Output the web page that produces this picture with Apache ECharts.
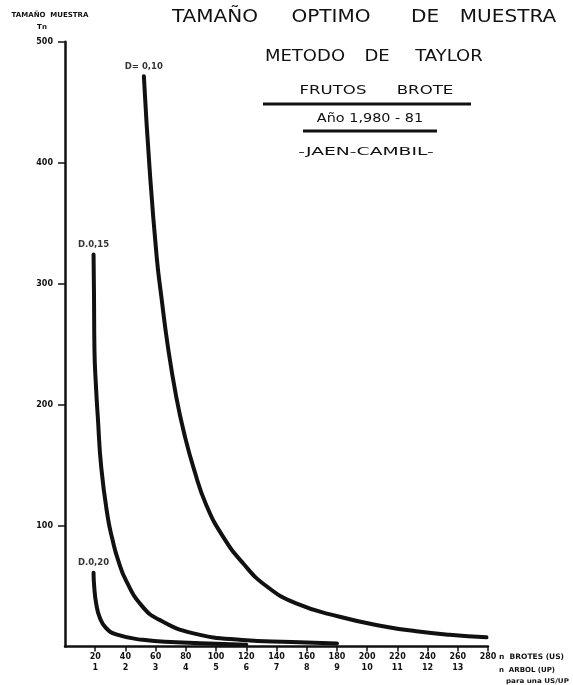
<!DOCTYPE html>
<html>
<head>
<meta charset="utf-8">
<script src="https://cdn.jsdelivr.net/npm/echarts@6/dist/echarts.min.js"></script>
<style>html,body{margin:0;padding:0;background:#fff}#c{width:573px;height:685px}</style>
</head>
<body>
<div id="c"></div>
<script>
// ---- data ----
const curveNames = ['D= 0,10', 'D.0,15', 'D.0,20'];
const xD10 = [52.2, 56, 60.7, 63.7, 68.1, 73.7, 79.1, 85.5, 93.5, 104.5, 117.7, 133.2, 153, 181.8, 210.5, 232.6, 254.6, 279];
const yD10 = [471.5, 395, 322, 290, 248, 206, 175, 146, 117, 91, 69, 50, 35.6, 24.6, 16.8, 12.6, 9.7, 7.6];
const xD15 = [18.9, 19.2, 19.5, 20.5, 21.7, 24, 28.3, 31.5, 35, 40.6, 51.3, 62.6, 84.4, 117.5, 150, 180];
const yD15 = [324, 290, 245, 215, 190, 148, 107, 88, 72, 54, 33, 22, 11.1, 5.4, 3.8, 2.5];
const xD20 = [18.9, 19.3, 20.7, 23, 27, 33.9, 51.5, 73.6, 100, 120];
const yD20 = [61, 50, 35, 24, 15.5, 10, 5.5, 3.5, 2.3, 1.5];
const xTicksTop = [20, 40, 60, 80, 100, 120, 140, 160, 180, 200, 220, 240, 260, 280];
const xTicksBottom = ['1', '2', '3', '4', '5', '6', '7', '8', '9', '10', '11', '12', '13', ''];
const yTicks = [100, 200, 300, 400, 500];
const yAxisTitle = ['TAMAÑO  MUESTRA', 'Tn'];
const xAxisTitle = ['n  BROTES (US)', 'n  ARBOL (UP)', 'para una US/UP'];
const titleWords = ['TAMAÑO', 'OPTIMO', 'DE', 'MUESTRA'];
const subtitleWords = ['METODO', 'DE', 'TAYLOR'];
const frutosWords = ['FRUTOS', 'BROTE'];
const yearText = 'Año 1,980 - 81';
const placeText = '-JAEN-CAMBIL-';

const FONT = 'DejaVu Sans';
const ink = '#111';

function pairs(xs, ys) { return xs.map((x, i) => [x, ys[i]]); }

function textEl(text, cx, cy, size, weight, scaleX) {
  return { type: 'text', x: cx, y: cy, scaleX: scaleX || 1,
    style: { text: text, fontFamily: FONT, fontSize: size, fontWeight: weight || 'normal', fill: ink,
      align: 'center', verticalAlign: 'middle' } };
}
function leftText(text, lx, cy, size, weight, scaleX) {
  return { type: 'text', x: lx, y: cy, scaleX: scaleX || 1,
    style: { text: text, fontFamily: FONT, fontSize: size, fontWeight: weight || 'normal', fill: ink,
      align: 'left', verticalAlign: 'middle' } };
}

const chart = echarts.init(document.getElementById('c'), null, { renderer: 'canvas' });
const titleCX = [215, 331, 425, 508];
const subCX = [305, 377, 449];
const frCX = [333, 425];

const graphic = [];
titleWords.forEach((w, i) => graphic.push(textEl(w, titleCX[i], 18, 17, 'normal', 1.18)));
subtitleWords.forEach((w, i) => graphic.push(textEl(w, subCX[i], 57, 15, 'normal', 1.2)));
frutosWords.forEach((w, i) => graphic.push(textEl(w, frCX[i], 91, 12, 'normal', 1.38)));
graphic.push({ type: 'line', shape: { x1: 263, y1: 104, x2: 471, y2: 104 }, style: { stroke: ink, lineWidth: 3 } });
graphic.push(textEl(yearText, 370, 119, 12, 'normal', 1.2));
graphic.push({ type: 'line', shape: { x1: 303, y1: 131, x2: 437, y2: 131 }, style: { stroke: ink, lineWidth: 3 } });
graphic.push(textEl(placeText, 366, 152, 11, 'normal', 1.7));
graphic.push(textEl(yAxisTitle[0], 50, 15, 7, 'bold'));
graphic.push(textEl(yAxisTitle[1], 42, 27, 7, 'bold'));
graphic.push(leftText(xAxisTitle[0], 499, 657, 7.5, 'bold'));
graphic.push(leftText(xAxisTitle[1], 499, 670, 7, 'bold'));
graphic.push(leftText(xAxisTitle[2], 506, 681, 6.5, 'bold', 1.1));

const lineStyle = { color: ink, width: 4, cap: 'round', join: 'round' };
const labelPts = [[xD10[0], yD10[0]], [xD15[0], yD15[0]], [xD20[0], yD20[0]]];

chart.setOption({
  animation: false,
  backgroundColor: '#fff',
  grid: { left: 65, right: 85, top: 41.7, bottom: 38.5, containLabel: false },
  xAxis: {
    type: 'value', min: 0, max: 280, interval: 20,
    axisLine: { show: true, onZero: false, lineStyle: { color: ink, width: 2.5 } },
    axisTick: { show: true, length: 5, customValues: xTicksTop, lineStyle: { color: ink, width: 1.5 } },
    splitLine: { show: false },
    axisLabel: {
      customValues: xTicksTop, margin: 5, color: ink, fontFamily: FONT, fontWeight: 'bold', fontSize: 8, lineHeight: 11,
      formatter: v => { const i = xTicksTop.indexOf(v); return i < 0 ? '' : (xTicksBottom[i] ? v + '\n' + xTicksBottom[i] : String(v)); }
    }
  },
  yAxis: {
    type: 'value', min: 0, max: 500, interval: 100,
    axisLine: { show: true, onZero: false, lineStyle: { color: ink, width: 2.5 } },
    axisTick: { show: true, length: 7, customValues: yTicks, lineStyle: { color: ink, width: 1.5 } },
    splitLine: { show: false },
    axisLabel: { customValues: yTicks, margin: 12, color: ink, fontFamily: FONT, fontWeight: 'bold', fontSize: 8 }
  },
  graphic: graphic,
  series: [
    { type: 'line', name: curveNames[0], data: pairs(xD10, yD10), smooth: 0.5, symbol: 'none', lineStyle: lineStyle, z: 3 },
    { type: 'line', name: curveNames[1], data: pairs(xD15, yD15), smooth: 0.5, symbol: 'none', lineStyle: lineStyle, z: 3 },
    { type: 'line', name: curveNames[2], data: pairs(xD20, yD20), smooth: 0.5, symbol: 'none', lineStyle: lineStyle, z: 3 },
    { type: 'scatter', name: 'labels', symbolSize: 0, silent: true, z: 4,
      data: labelPts.map((p, i) => ({ value: p, name: curveNames[i] })),
      label: { show: true, position: 'top', distance: 5, formatter: p => p.name,
        fontFamily: FONT, fontWeight: 'bold', fontSize: 8.5, color: '#000' } }
  ]
});
</script>
</body>
</html>
